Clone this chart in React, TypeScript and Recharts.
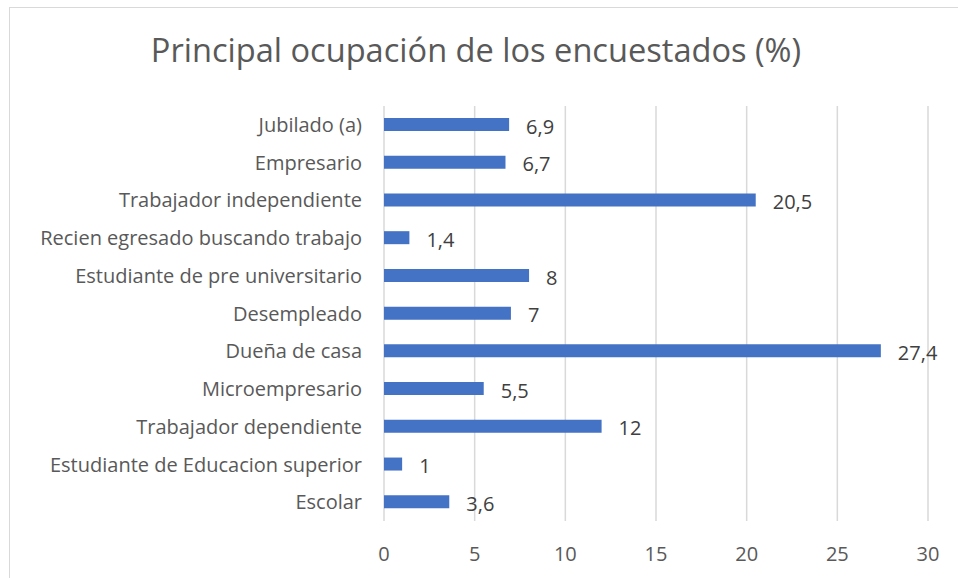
import { BarChart, Bar, XAxis, YAxis, CartesianGrid, LabelList } from "recharts";

// categories top to bottom, as they appear in the chart
const categories = [
    "Jubilado (a)",
    "Empresario",
    "Trabajador independiente",
    "Recien egresado buscando trabajo",
    "Estudiante de pre universitario",
    "Desempleado",
    "Dueña de casa",
    "Microempresario",
    "Trabajador dependiente",
    "Estudiante de Educacion superior",
    "Escolar",
];
const percentages = [6.9, 6.7, 20.5, 1.4, 8, 7, 27.4, 5.5, 12, 1, 3.6];
const xTicks = [0, 5, 10, 15, 20, 25, 30];

const data = categories.map((name, i) => ({ name, value: percentages[i] }));

const FONT = "'Open Sans', sans-serif";

export default function App() {
    return (
        <div
            style={{
                position: "fixed",
                left: 9,
                top: 7,
                width: 960,
                height: 590,
                border: "1px solid #d9d9d9",
                background: "#fff",
                fontFamily: FONT,
            }}
        >
            <div
                style={{
                    position: "absolute",
                    left: 0,
                    top: 20,
                    width: 932,
                    textAlign: "center",
                    fontSize: 32.6,
                    color: "#595959",
                    lineHeight: "44px",
                }}
            >
                Principal ocupación de los encuestados (%)
            </div>
            <BarChart
                width={950}
                height={570}
                data={data}
                layout="vertical"
                margin={{ top: 98, right: 32, bottom: 0, left: 0 }}
                style={{ fontFamily: FONT }}
            >
                <CartesianGrid horizontal={false} stroke="#d9d9d9" strokeWidth={1.5} />
                <XAxis
                    type="number"
                    domain={[0, 30]}
                    ticks={xTicks}
                    axisLine={false}
                    tickLine={false}
                    tickSize={6}
                    tickMargin={20}
                    height={57}
                    tick={{ fill: "#595959", fontSize: 20 }}
                />
                <YAxis
                    type="category"
                    dataKey="name"
                    width={374}
                    axisLine={false}
                    tickLine={false}
                    tickSize={6}
                    tickMargin={16}
                    interval={0}
                    tick={{ fill: "#595959", fontSize: 20 }}
                />
                <Bar dataKey="value" fill="#4472C4" barSize={13} isAnimationActive={false}>
                    <LabelList
                        dataKey="value"
                        position="right"
                        offset={17}
                        dy={2}
                        fill="#404040"
                        fontSize={20}
                        formatter={(v: any) => String(v).replace(".", ",")}
                    />
                </Bar>
            </BarChart>
        </div>
    );
}
